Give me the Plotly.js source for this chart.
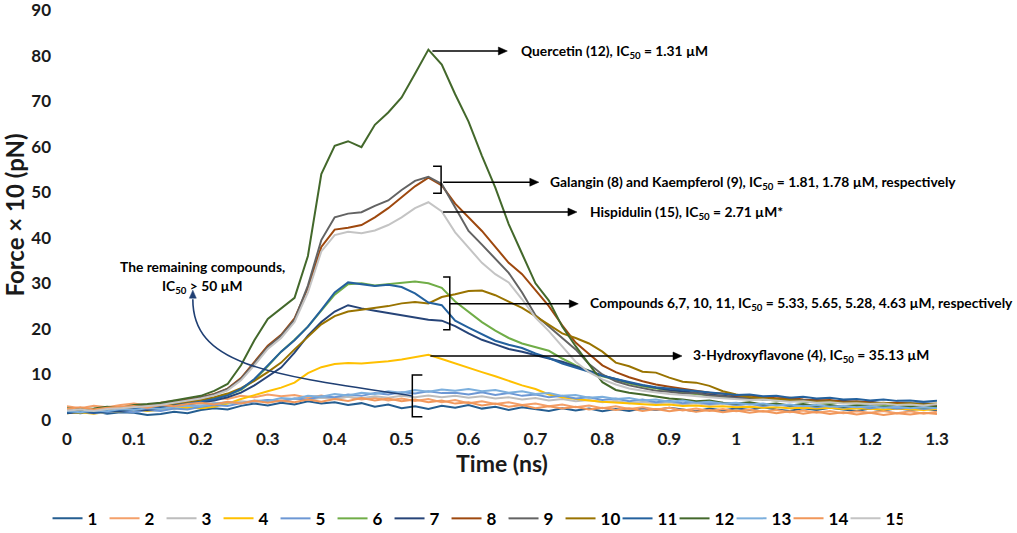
<!DOCTYPE html>
<html>
<head>
<meta charset="utf-8">
<script src="https://cdn.plot.ly/plotly-3.0.1.min.js"></script>
<style>html,body{margin:0;padding:0;background:#fff}#chart{width:1017px;height:533px}</style>
</head>
<body>
<div id="chart"></div>
<script>
// time axis (ns), sampled every 0.02 ns
var time = [0,0.02,0.04,0.06,0.08,0.1,0.12,0.14,0.16,0.18,0.2,0.22,0.24,0.26,0.28,0.3,0.32,0.34,0.36,0.38,0.4,0.42,0.44,0.46,0.48,0.5,0.52,0.54,0.56,0.58,0.6,0.62,0.64,0.66,0.68,0.7,0.72,0.74,0.76,0.78,0.8,0.82,0.84,0.86,0.88,0.9,0.92,0.94,0.96,0.98,1,1.02,1.04,1.06,1.08,1.1,1.12,1.14,1.16,1.18,1.2,1.22,1.24,1.26,1.28,1.3];

var s1 = [1.8,1.5,1.9,1.4,1.7,1.6,1.1,1.3,1.8,1.5,2.2,2.6,2.3,3.1,3.6,3.2,3.8,3.4,4.1,3.6,3.9,3.3,3.7,2.9,3.4,2.6,3.0,2.4,3.1,2.7,3.3,2.5,2.9,2.2,2.8,2.4,2.0,2.6,2.1,2.5,1.9,2.4,2.0,2.6,2.2,2.7,2.3,1.9,2.5,2.1,2.6,2.2,2.8,2.3,2.0,2.6,2.2,2.7,2.3,2.0,2.5,2.1,2.6,2.2,2.5,2.1];
var s2 = [3.0,2.6,3.1,2.8,3.3,3.6,3.2,3.8,4.2,4.0,4.6,4.9,4.6,5.3,5.0,5.6,5.2,5.5,4.9,5.4,4.8,5.1,4.5,4.9,4.3,4.7,4.2,4.6,3.9,4.4,3.7,4.1,3.5,3.9,3.3,3.6,3.0,3.4,2.8,3.2,2.6,3.0,2.4,2.8,2.3,2.7,2.1,2.5,2.0,2.4,1.9,2.3,1.8,2.2,1.7,2.1,1.6,2.0,1.5,1.9,1.6,2.0,1.5,1.9,1.4,1.8];
var s3 = [2.3,2.0,2.4,2.2,2.6,2.4,2.8,2.6,3.1,2.9,3.4,3.8,3.6,4.1,3.9,4.4,4.2,4.7,4.4,4.9,4.6,5.1,4.8,5.2,4.9,5.3,5.0,5.4,5.0,5.3,4.9,5.2,4.7,5.0,4.5,4.8,4.3,4.6,4.1,4.4,3.9,4.2,3.7,4.0,3.6,3.9,3.4,3.7,3.3,3.6,3.2,3.5,3.1,3.4,3.0,3.3,2.9,3.2,2.9,3.1,2.8,3.1,2.8,3.0,2.7,3.0];
var s4 = [1.5,1.7,1.4,1.8,1.9,2.1,2.0,2.3,2.5,2.7,2.6,2.9,3.6,4.6,5.5,6.3,7.1,8.2,10.3,11.6,12.3,12.5,12.4,12.6,12.9,13.3,13.8,14.3,13.4,12.4,11.5,10.5,9.6,8.6,7.6,6.8,5.6,5.0,4.6,4.3,4.0,3.8,3.6,3.5,3.3,3.4,3.1,3.2,2.9,3.0,2.8,2.9,2.7,2.8,2.6,2.7,2.5,2.7,2.4,2.6,2.5,2.3,2.5,2.4,2.2,2.4];
var s5 = [1.6,1.9,1.5,1.8,2.0,1.7,2.2,2.0,2.5,2.3,2.9,3.3,3.1,3.7,4.0,4.4,4.1,4.7,4.5,5.2,5.0,5.6,5.3,5.9,5.6,6.1,5.8,6.3,5.9,6.0,5.6,6.1,5.5,5.9,5.3,5.6,5.0,5.3,4.7,5.0,4.4,4.7,4.1,4.5,3.9,4.2,3.7,4.0,3.5,3.8,3.3,3.6,3.1,3.5,3.0,3.3,2.8,3.2,2.7,3.0,2.6,2.9,2.5,2.8,2.4,2.7];
var s6 = [1.9,2.1,1.8,2.2,2.3,2.6,2.5,2.9,3.3,3.8,4.2,4.8,5.5,6.6,8.8,11.8,15.0,17.6,20.5,24.0,27.5,29.8,30.0,29.5,29.8,30.2,30.4,30.0,29.0,26.0,23.8,21.5,19.6,18.0,16.8,16.0,15.2,13.5,12.0,10.8,9.6,8.8,8.0,7.4,6.9,6.4,6.0,5.7,5.3,5.0,4.8,4.5,4.6,4.2,4.3,4.0,3.9,3.7,3.8,3.5,3.6,3.3,3.4,3.2,3.3,3.1];
var s7 = [1.5,1.8,1.6,1.9,2.0,2.3,2.2,2.6,3.0,3.4,3.8,4.3,5.0,6.0,7.6,9.5,11.5,14.8,18.5,21.5,23.8,25.2,24.5,24.0,23.5,23.0,22.4,22.0,21.8,20.6,19.0,17.6,16.6,15.6,15.0,14.2,13.5,12.8,11.8,10.8,9.8,9.0,8.2,7.6,7.1,6.6,6.3,5.9,5.6,5.3,5.1,4.8,4.9,4.5,4.6,4.3,4.4,4.1,4.2,3.9,4.0,3.7,3.8,3.6,3.7,3.5];
var s8 = [2.0,2.2,2.1,2.6,2.5,3.0,3.2,3.5,4.0,4.5,5.0,5.7,6.9,9.2,12.8,16.3,18.7,22.3,29.0,38.0,41.8,42.2,42.8,44.5,46.5,49.0,51.3,53.2,51.5,47.5,44.5,41.5,38.0,34.5,32.0,28.5,25.0,20.8,17.0,14.5,12.0,10.5,9.4,8.5,7.8,7.3,6.9,6.5,6.0,5.8,5.3,5.4,5.0,4.8,4.9,4.5,4.3,4.4,4.0,4.1,3.8,3.6,3.8,3.5,3.3,3.4];
var s9 = [2.2,2.0,2.3,2.5,2.4,2.9,3.0,3.4,3.9,4.3,4.9,5.6,6.8,9.0,12.5,16.0,18.5,22.0,29.5,39.5,44.5,45.3,45.6,47.0,48.2,50.5,52.5,53.4,51.8,46.5,41.5,38.5,35.5,32.3,28.0,23.0,20.5,18.0,15.5,12.3,10.0,8.5,7.6,7.0,6.4,6.2,5.8,5.9,5.4,5.2,4.8,4.9,4.5,4.6,4.2,4.4,4.0,4.1,3.8,3.9,3.6,3.7,3.4,3.6,3.3,3.4];
var s10 = [1.8,2.0,1.9,2.3,2.2,2.6,2.8,3.0,3.5,3.9,4.4,5.0,5.8,7.0,8.6,10.5,12.6,15.5,18.3,21.0,22.8,23.8,24.2,24.6,25.0,25.6,25.9,25.6,27.0,27.6,28.3,28.4,27.4,26.0,24.6,22.8,20.8,19.0,18.0,16.8,15.0,12.6,11.8,10.6,10.4,9.3,8.4,8.2,7.5,6.3,5.6,5.0,4.8,4.6,4.4,4.2,4.0,4.1,3.8,3.9,3.6,3.8,3.5,3.7,3.4,3.6];
var s11 = [1.6,1.9,1.7,2.0,2.2,2.4,2.6,2.8,3.2,3.6,4.0,4.6,5.4,6.8,9.0,12.0,15.0,17.5,20.5,24.2,28.0,30.2,29.8,29.4,29.7,29.2,27.8,25.8,25.2,21.8,20.3,18.8,17.4,16.5,15.8,14.6,13.6,12.4,11.5,10.6,9.7,9.0,8.3,7.7,7.2,6.9,6.6,6.4,6.0,5.8,5.5,5.6,5.2,5.3,4.9,5.1,4.7,4.9,4.5,4.6,4.3,4.5,4.2,4.3,4.0,4.2];
var s12 = [2.6,2.3,2.5,2.9,2.7,3.3,3.5,3.8,4.3,4.8,5.3,6.4,7.9,12.0,17.5,22.2,24.5,26.8,36.0,54.0,60.2,61.2,59.9,64.8,67.5,70.8,76.0,81.3,78.0,71.5,65.5,58.0,51.0,43.0,36.5,30.0,26.2,20.5,16.2,12.3,8.3,6.6,6.0,5.6,5.1,4.7,4.5,4.1,4.3,3.8,3.6,3.9,3.4,3.6,3.2,3.5,3.1,3.3,2.9,3.2,3.0,2.8,3.1,2.9,2.7,2.9];
var s13 = [2.0,1.7,2.1,1.9,2.4,2.2,2.6,2.4,2.9,3.2,3.0,3.6,3.9,3.7,4.3,4.1,4.8,4.6,5.3,5.1,5.7,5.4,6.0,5.7,6.3,6.0,6.6,6.2,6.7,6.4,6.8,6.3,6.6,6.0,6.3,5.7,5.9,5.3,5.5,4.9,5.1,4.6,4.8,4.3,4.5,4.0,4.3,3.8,4.0,3.6,3.8,3.4,3.6,3.2,3.4,3.0,3.3,2.9,3.1,2.8,3.0,2.7,2.9,2.6,2.8,2.6];
var s14 = [2.4,2.8,2.3,2.7,2.9,3.1,2.7,3.3,3.0,3.5,3.8,3.4,4.0,3.6,4.2,3.8,4.3,3.9,4.5,4.0,4.6,4.2,4.8,4.3,4.7,4.1,4.5,3.9,4.3,3.6,3.9,3.2,3.6,2.9,3.3,2.6,3.0,2.5,2.9,2.3,2.7,2.2,2.6,2.0,2.4,1.9,2.3,1.8,2.2,1.7,2.1,1.6,2.0,1.5,1.9,1.4,1.8,1.3,1.7,1.2,1.6,1.1,1.5,1.2,1.6,1.3];
var s15 = [2.1,2.3,2.0,2.4,2.6,2.8,3.1,3.3,3.8,4.2,4.7,5.4,6.5,8.7,12.0,15.6,18.0,21.5,28.0,37.0,40.6,41.3,41.0,41.6,42.8,44.5,46.5,47.8,45.8,41.2,37.8,34.5,32.0,30.2,26.5,22.5,19.5,16.2,12.8,10.5,8.9,7.8,6.9,6.4,6.0,5.7,5.5,5.2,5.0,4.8,4.6,4.4,4.5,4.2,4.0,4.1,3.8,3.9,3.6,3.7,3.5,3.6,3.3,3.4,3.2,3.5];

var seriesNames = ['1','2','3','4','5','6','7','8','9','10','11','12','13','14','15'];
var seriesValues = [s1,s2,s3,s4,s5,s6,s7,s8,s9,s10,s11,s12,s13,s14,s15];
var seriesColors = ['#255E91','#F4A06A','#BDBDBD','#FFC000','#6C97D4','#70AD47','#264478','#9E480E','#636363','#997300','#24619E','#43682B','#7CAFDD','#F1975A','#C4C4C4'];

var FONT = 'Lato, "Open Sans", sans-serif';

var traces = seriesNames.map(function(n, i){
  return {x: time, y: seriesValues[i], type: 'scatter', mode: 'lines', name: n,
          line: {color: seriesColors[i], width: 2}};
});

var txtFont = {family: FONT, size: 13.8, color: '#000', weight: 700};
function label(x, y, t, anchor){
  return {x: x, y: y, xref: 'x', yref: 'y', text: t, showarrow: false,
          xanchor: anchor || 'left', yanchor: 'middle', font: txtFont};
}

var annotations = [
  label(0.676, 81.0, 'Quercetin (12), IC<sub>50</sub> = 1.31 µM'),
  label(0.719, 52.2, 'Galangin (8) and Kaempferol (9), IC<sub>50</sub> = 1.81, 1.78 µM, respectively'),
  label(0.778, 45.65, 'Hispidulin (15), IC<sub>50</sub> = 2.71 µM*'),
  label(0.778, 25.5, 'Compounds 6,7, 10, 11, IC<sub>50</sub> = 5.33, 5.65, 5.28, 4.63 µM, respectively'),
  label(0.933, 14.05, '3-Hydroxyflavone (4), IC<sub>50</sub> = 35.13 µM'),
  label(0.202, 33.6, 'The remaining compounds,', 'center'),
  label(0.202, 29.2, 'IC<sub>50</sub> > 50 µM', 'center')
];

// arrow helpers in data units (1 px = 1/669 ns horizontally, 1/4.556 force units vertically)
var PX = 1 / 669, PY = 1 / 4.556;
function hArrow(x0, y0, x1, y1){
  var l = {type: 'line', xref: 'x', yref: 'y', x0: x0, y0: y0, x1: x1 - 6 * PX, y1: y1, line: {color: '#000', width: 1.5}};
  var h = {type: 'path', xref: 'x', yref: 'y', fillcolor: '#000', line: {color: '#000', width: 0.5},
           path: 'M ' + x1 + ',' + y1 + ' L ' + (x1 - 9 * PX) + ',' + (y1 + 4 * PY) + ' L ' + (x1 - 9 * PX) + ',' + (y1 - 4 * PY) + ' Z'};
  return [l, h];
}

var shapes = [].concat(
  hArrow(0.546, 81.0, 0.658, 81.0),
  hArrow(0.562, 52.2, 0.705, 52.2),
  hArrow(0.562, 45.65, 0.762, 45.65),
  hArrow(0.572, 25.5, 0.764, 25.5),
  hArrow(0.543, 14.05, 0.919, 14.05),
  [
    // brackets
    {type: 'path', xref: 'x', yref: 'y', path: 'M 0.547,55.7 L 0.559,55.7 L 0.559,49.8 L 0.547,49.8', line: {color: '#000', width: 1.5}},
    {type: 'path', xref: 'x', yref: 'y', path: 'M 0.562,31.4 L 0.572,31.4 L 0.572,19.8 L 0.562,19.8', line: {color: '#000', width: 1.5}},
    {type: 'path', xref: 'x', yref: 'y', path: 'M 0.531,9.9 L 0.516,9.9 L 0.516,0.7 L 0.531,0.7', line: {color: '#000', width: 1.5}},
    // curved connector to the "remaining compounds" label
    {type: 'path', xref: 'x', yref: 'y', path: 'M 0.516,5.3 C 0.30,10 0.188,12 0.188,26.5', line: {color: '#1F3F73', width: 1.6}},
    {type: 'path', xref: 'x', yref: 'y', fillcolor: '#1F3F73', line: {color: '#1F3F73', width: 0.5},
     path: 'M 0.188,28.5 L ' + (0.188 - 3.5 * PX) + ',' + (28.5 - 8 * PY) + ' L ' + (0.188 + 3.5 * PX) + ',' + (28.5 - 8 * PY) + ' Z'}
  ]
);

var layout = {
  width: 1017, height: 533,
  margin: {l: 67, r: 80, t: 10, b: 113, autoexpand: false},
  paper_bgcolor: '#fff', plot_bgcolor: '#fff',
  showlegend: true,
  legend: {orientation: 'h', x: 0.469, xanchor: 'center', y: -0.241, yanchor: 'middle',
           font: {family: FONT, size: 17, color: '#000', weight: 700}, itemwidth: 30,
           entrywidth: 12, tracegroupgap: 0},
  xaxis: {range: [0, 1.3], dtick: 0.1, tick0: 0, showgrid: false, zeroline: false, showline: false,
          ticks: '', ticklabelstandoff: 7, ticklabeloverflow: 'allow',
          tickfont: {family: FONT, size: 17, color: '#1a1a1a', weight: 700},
          title: {text: 'Time (ns)', standoff: 2, font: {family: FONT, size: 23, color: '#1a1a1a', weight: 700}}},
  yaxis: {range: [0, 90], dtick: 10, showgrid: false, zeroline: false, showline: false,
          ticks: '', ticklabelstandoff: 15, ticklabeloverflow: 'allow',
          tickfont: {family: FONT, size: 17, color: '#1a1a1a', weight: 700},
          title: {text: 'Force × 10 (pN)', standoff: 0, font: {family: FONT, size: 24, color: '#1a1a1a', weight: 700}}},
  annotations: annotations,
  shapes: shapes
};

Plotly.newPlot('chart', traces, layout, {staticPlot: true, displayModeBar: false});
</script>
</body>
</html>
